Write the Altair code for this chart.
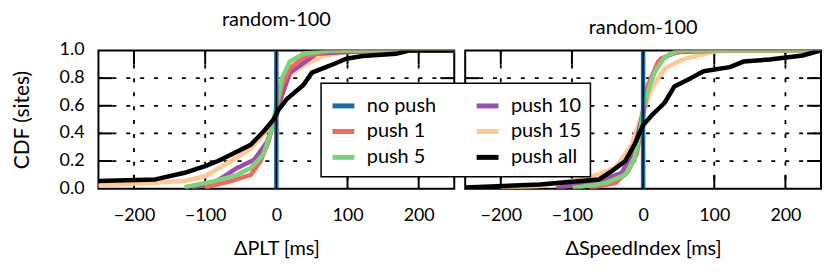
import altair as alt
import pandas as pd

FONT = "Lato"

series_names = ["no push", "push 1", "push 5", "push 10", "push 15", "push all"]
series_colors = ["#1b6aa5", "#f0685f", "#7fd07a", "#9b4fa8", "#fdc994", "#000000"]
draw_order = ["push 15", "push 10", "push 1", "push 5", "no push", "push all"]

panel_titles = ["random-100", "random-100"]
x_titles = ["\u0394PLT [ms]", "\u0394SpeedIndex [ms]"]

# ---- Left panel: delta PLT ----
plt_no_push_x = [0, 0]
plt_no_push_y = [0.0, 1.0]
plt_p1_x = [-101, -64, -36, -22, -11, 0, 8, 19, 38, 66, 98, 260]
plt_p1_y = [0.007, 0.055, 0.10, 0.20, 0.34, 0.56, 0.75, 0.87, 0.95, 0.99, 1.0, 1.0]
plt_p5_x = [-129, -87, -55, -36, -18, -6, 0, 8, 19, 38, 75, 260]
plt_p5_y = [0.01, 0.055, 0.10, 0.15, 0.25, 0.44, 0.60, 0.80, 0.92, 0.976, 1.0, 1.0]
plt_p10_x = [-119, -87, -55, -31, -13, -1, 8, 19, 33, 56, 98, 158, 260]
plt_p10_y = [0.007, 0.043, 0.15, 0.21, 0.34, 0.51, 0.68, 0.84, 0.89, 0.976, 0.99, 1.0, 1.0]
plt_p15_x = [-260, -129, -100, -64, -36, -18, -4, 6, 19, 38, 66, 98, 158, 260]
plt_p15_y = [0.02, 0.055, 0.09, 0.20, 0.29, 0.39, 0.51, 0.65, 0.82, 0.89, 0.96, 0.99, 1.0, 1.0]
plt_pall_x = [-260, -170, -129, -100, -82, -64, -36, -18, -4, 3, 15, 38, 50, 75, 98, 121, 168, 186, 260]
plt_pall_y = [0.055, 0.067, 0.115, 0.163, 0.20, 0.246, 0.318, 0.414, 0.50, 0.57, 0.65, 0.75, 0.84, 0.89, 0.94, 0.96, 0.976, 1.0, 1.0]

# ---- Right panel: delta SpeedIndex ----
si_no_push_x = [0, 0]
si_no_push_y = [0.0, 1.0]
si_p1_x = [-76, -39, -21, -9, -1, 7, 21, 39, 62, 260]
si_p1_y = [0.005, 0.04, 0.127, 0.25, 0.49, 0.75, 0.92, 0.976, 1.0, 1.0]
si_p5_x = [-99, -53, -25, -12, -5, 2, 16, 30, 48, 260]
si_p5_y = [0.005, 0.04, 0.10, 0.22, 0.39, 0.63, 0.84, 0.95, 1.0, 1.0]
si_p10_x = [-122, -62, -30, -12, -2, 7, 25, 48, 113, 260]
si_p10_y = [0.005, 0.055, 0.115, 0.29, 0.51, 0.75, 0.94, 0.99, 1.0, 1.0]
si_p15_x = [-200, -145, -76, -39, -16, -2, 12, 30, 58, 99, 118, 260]
si_p15_y = [0.005, 0.02, 0.08, 0.15, 0.32, 0.53, 0.72, 0.87, 0.94, 0.99, 1.0, 1.0]
si_pall_x = [-260, -145, -62, -44, -25, -12, 0, 12, 30, 44, 67, 85, 122, 141, 178, 224, 249, 260]
si_pall_y = [0.006, 0.03, 0.067, 0.127, 0.20, 0.32, 0.46, 0.53, 0.62, 0.74, 0.80, 0.85, 0.88, 0.92, 0.935, 0.964, 1.0, 1.0]

x_ticks = [-200, -100, 0, 100, 200]
y_ticks = [0.2, 0.4, 0.6, 0.8]
y_labels = [0.0, 0.2, 0.4, 0.6, 0.8, 1.0]

panels = {
    "plt": {
        "no push": (plt_no_push_x, plt_no_push_y),
        "push 1": (plt_p1_x, plt_p1_y),
        "push 5": (plt_p5_x, plt_p5_y),
        "push 10": (plt_p10_x, plt_p10_y),
        "push 15": (plt_p15_x, plt_p15_y),
        "push all": (plt_pall_x, plt_pall_y),
    },
    "si": {
        "no push": (si_no_push_x, si_no_push_y),
        "push 1": (si_p1_x, si_p1_y),
        "push 5": (si_p5_x, si_p5_y),
        "push 10": (si_p10_x, si_p10_y),
        "push 15": (si_p15_x, si_p15_y),
        "push all": (si_pall_x, si_pall_y),
    },
}

W, H = 358, 139
TL = 14  # inward tick length in px
DASH = [4, 10]


def build_df(series_map):
    rows = []
    for rank, name in enumerate(draw_order):
        xs, ys = series_map[name]
        for i, (x, y) in enumerate(zip(xs, ys)):
            rows.append({"series": name, "delta": x, "cdf": y, "rank": rank, "idx": i})
    return pd.DataFrame(rows)


xscale = alt.Scale(domain=[-250, 250], nice=False, zero=False)
yscale = alt.Scale(domain=[0, 1], nice=False)


def make_panel(key, title, xtitle, first):
    df = build_df(panels[key])
    yax = alt.Undefined if first else None

    xaxis = alt.Axis(values=x_ticks, ticks=False, domain=False, grid=False,
                     labelOverlap=False, labelFontSize=18, labelPadding=18, title=xtitle,
                     titleFontSize=20, titleFontWeight="normal", titlePadding=14,
                     labelFont=FONT, titleFont=FONT, labelColor="black", titleColor="black")
    yaxis = alt.Axis(values=y_labels, format=".1f", ticks=False, domain=False, grid=False,
                     labelFontSize=18, labelPadding=14, labelOpacity=0,
                     labelBaseline="middle",
                     title="CDF (sites)", titleFontSize=21, titleFontWeight="normal",
                     titlePadding=27, labelFont=FONT, titleFont=FONT,
                     labelColor="black", titleColor="black")

    if first:
        legend = alt.Legend(orient="none", legendX=224, legendY=33, columns=2,
                            direction="vertical",
                            title=None, symbolType="stroke", symbolStrokeWidth=5,
                            symbolSize=484, labelFontSize=20, labelFont=FONT,
                            labelColor="black", fillColor="white", strokeColor="black",
                            padding=9, rowPadding=2, columnPadding=30,
                            labelOffset=10, symbolOpacity=1)
    else:
        legend = None

    xt = pd.DataFrame({"delta": x_ticks})
    yt = pd.DataFrame({"cdf": y_ticks})
    yl = pd.DataFrame({"cdf": y_labels, "label": [f"{v:.1f}" for v in y_labels]})

    # axis carriers (titles)
    axis_layer = alt.Chart(yl).mark_rule(opacity=0).encode(
        y=alt.Y("cdf:Q", scale=yscale, axis=yaxis),
        x=alt.value(0), x2=alt.value(1),
    )
    ylabel_layer = alt.Chart(yl).mark_text(
        align="right", baseline="middle", fontSize=18, font=FONT, color="black"
    ).encode(
        y=alt.Y("cdf:Q", scale=yscale), x=alt.value(-14), text="label:N",
    )
    xaxis_layer = alt.Chart(xt).mark_rule(opacity=0).encode(
        x=alt.X("delta:Q", scale=xscale, axis=xaxis),
        y=alt.value(0), y2=alt.value(1),
    )
    # dotted grid
    vgrid = alt.Chart(xt).mark_rule(color="black", strokeWidth=1.8, strokeDash=DASH).encode(
        x=alt.X("delta:Q", scale=xscale), y=alt.value(0), y2=alt.value(H))
    hgrid = alt.Chart(yt).mark_rule(color="black", strokeWidth=1.8, strokeDash=DASH).encode(
        y=alt.Y("cdf:Q", scale=yscale, axis=yax), x=alt.value(0), x2=alt.value(W))

    lines = alt.Chart(df).mark_line(strokeWidth=4.5, clip=True, strokeJoin="round").encode(
        x=alt.X("delta:Q", scale=xscale),
        y=alt.Y("cdf:Q", scale=yscale, axis=yax),
        color=alt.Color("series:N", scale=alt.Scale(domain=series_names, range=series_colors),
                        legend=legend),
        detail="rank:O",
        order="idx:Q",
    )
    zero_df = pd.DataFrame({"delta": [0]})
    zero_rule = alt.Chart(zero_df).mark_rule(color="black", strokeWidth=1.3).encode(
        x=alt.X("delta:Q", scale=xscale), y=alt.value(0), y2=alt.value(H)
    )
    rk = dict(color="black", strokeWidth=2)
    tick_top = alt.Chart(xt).mark_rule(**rk).encode(
        x=alt.X("delta:Q", scale=xscale), y=alt.value(0), y2=alt.value(TL))
    tick_bot = alt.Chart(xt).mark_rule(**rk).encode(
        x=alt.X("delta:Q", scale=xscale), y=alt.value(H - TL), y2=alt.value(H))
    tick_left = alt.Chart(yt).mark_rule(**rk).encode(
        y=alt.Y("cdf:Q", scale=yscale, axis=yax), x=alt.value(0), x2=alt.value(TL))
    tick_right = alt.Chart(yt).mark_rule(**rk).encode(
        y=alt.Y("cdf:Q", scale=yscale, axis=yax), x=alt.value(W - TL), x2=alt.value(W))

    layers = [xaxis_layer, vgrid, hgrid, tick_top, tick_bot, tick_left, tick_right,
              lines, zero_rule]
    if first:
        layers = [axis_layer, ylabel_layer] + layers
    layer = alt.layer(*layers).properties(
        width=W, height=H,
        title=alt.TitleParams(title, fontSize=20, font=FONT, fontWeight="normal",
                              color="black", offset=12),
    )
    return layer


left = make_panel("plt", panel_titles[0], x_titles[0], True)
right = make_panel("si", panel_titles[1], x_titles[1], False)

chart = (
    alt.hconcat(left, right, spacing=7)
    .resolve_scale(color="shared")
    .configure(font=FONT, background="white")
    .configure_view(stroke="black", strokeWidth=2)
    .configure_legend(strokeWidth=1.5)
    .configure_axis(minExtent=0)
    .properties(padding={"left": 2, "right": 0, "top": 0, "bottom": 0})
)

chart.save("out.html", embed_options={"renderer": "svg", "actions": False})
